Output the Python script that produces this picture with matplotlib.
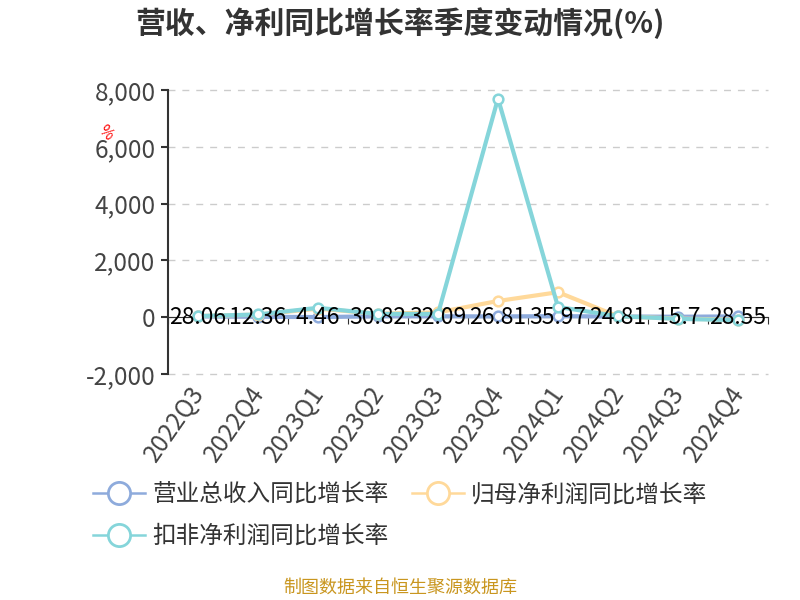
import numpy as np
import matplotlib.pyplot as plt
from matplotlib.lines import Line2D
from matplotlib.transforms import offset_copy

plt.rcParams['font.family'] = ['Noto Sans CJK SC', 'DejaVu Sans']

# 数据
quarters = ['2022Q3', '2022Q4', '2023Q1', '2023Q2', '2023Q3',
            '2023Q4', '2024Q1', '2024Q2', '2024Q3', '2024Q4']
revenue = [28.06, 12.36, 4.46, 30.82, 32.09, 26.81, 35.97, 24.81, 15.7, 28.55]
net_profit = [40, 90, 300, 120, 170, 570, 880, 30, -50, -90]
deducted = [40, 95, 330, 115, 115, 7700, 360, 35, -60, -105]
rev_labels = ['28.06', '12.36', '4.46', '30.82', '32.09',
              '26.81', '35.97', '24.81', '15.7', '28.55']

names = ['营业总收入同比增长率', '归母净利润同比增长率', '扣非净利润同比增长率']
colors = ['#8EABDC', '#FFD99A', '#85D5DA']

fig = plt.figure(figsize=(8, 6), dpi=100)
ax = fig.add_axes([0.21, 0.3767, 0.75, 0.4733])

x = np.arange(len(quarters))
series = [revenue, net_profit, deducted]
for vals, c, n in zip(series, colors, names):
    ax.plot(x, vals, color=c, lw=3, marker='o', ms=7, mfc='white',
            mec=c, mew=1.8, zorder=3)

# 营收数值标签
for xi, lab in zip(x, rev_labels):
    ax.text(xi, 0, lab, ha='center', va='center', fontsize=16.5,
            color='black', zorder=5)

ax.set_xlim(-0.5, len(quarters) - 0.5)
ax.set_ylim(-2000, 8000)
ax.set_yticks([-2000, 0, 2000, 4000, 6000, 8000])
ax.set_yticklabels(['-2,000', '0', '2,000', '4,000', '6,000', '8,000'],
                   fontsize=17.5, color='#444444')
ax.yaxis.grid(True, ls=(0, (5, 5)), color='#cccccc', lw=1)
for gl in ax.get_ygridlines():
    gl.set_clip_on(False)
ax.set_axisbelow(True)

ax.set_xticks(np.arange(len(quarters) + 1) - 0.5)
ax.set_xticklabels([])
ax.tick_params(axis='x', length=5, color='#333333')
ax.tick_params(axis='y', length=5, color='#333333', width=1.5, pad=4)

# x轴类目标签放在坐标区下方
lab_tr = offset_copy(ax.get_xaxis_transform(), fig=fig, x=1, y=-15,
                     units='dots')
for xi, q in zip(x, quarters):
    ax.text(xi, 0, q, transform=lab_tr, rotation=55, ha='right',
            va='center', rotation_mode='anchor', fontsize=17.5,
            color='#444444')

for s in ['top', 'right']:
    ax.spines[s].set_visible(False)
ax.spines['bottom'].set_position(('data', 0))
ax.spines['bottom'].set_color('#333333')
ax.spines['left'].set_color('#333333')
ax.spines['left'].set_linewidth(1.5)

fig.text(0.5, 0.962, '营收、净利同比增长率季度变动情况(%)', ha='center',
         va='center', fontsize=21.5, fontweight='bold', color='#333333')
fig.text(0.132, 0.778, '%', color='red', fontsize=11, rotation=-45,
         ha='center', va='center')

handles = [Line2D([], [], color=c, lw=1.8, marker='o', ms=16, mfc='white',
                  mec=c, mew=2) for c in colors]
order = [0, 2, 1]
fig.legend([handles[i] for i in order], [names[i] for i in order],
           loc='upper left', bbox_to_anchor=(0.09, 0.23), ncol=2,
           frameon=False, fontsize=17, handlelength=2.2, columnspacing=1.0,
           labelspacing=0.8, handletextpad=0.3, labelcolor='#333333')

fig.text(0.5, 0.02, '制图数据来自恒生聚源数据库', ha='center', va='center',
         fontsize=13, color='#C9961F')

fig.savefig('out.png')
